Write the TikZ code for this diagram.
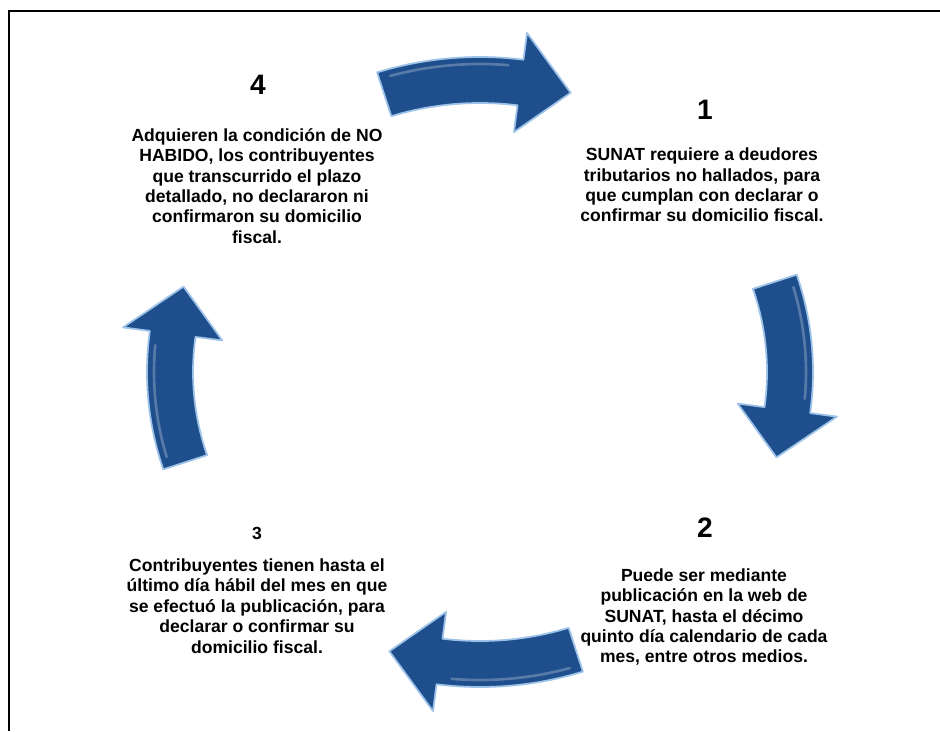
\documentclass[tikz,border=0pt]{standalone}
\usepackage{fontspec}
\setmainfont{Liberation Sans}
\definecolor{arrowblue}{HTML}{1F4E8D}
\definecolor{arrowedge}{HTML}{9CC2E8}

\begin{document}
\begin{tikzpicture}[x=0.02cm, y=-0.02cm, every node/.style={align=center, inner sep=0pt},
  steptext/.style={font=\bfseries\fontsize{10}{11.6}\selectfont},
  stepnum/.style={font=\bfseries\fontsize{16}{18}\selectfont}]
\useasboundingbox (0,0) rectangle (940,731);
% Frame
\draw[line width=1.1pt] (9,731) -- (9,11) -- (940,11);

% Cycle arrows (angle 0 = right, 90 = down)
\begin{scope}[shift={(480,372)}]
\foreach \c in {270,0,90,180} {
  \fill[arrowblue, draw=arrowedge, line width=1pt, line join=round]
    (\c-18:333 and 315) arc[start angle=\c-18, end angle=\c+7.5, x radius=333, y radius=315]
    -- (\c+7.5:360 and 342) -- (\c+17:310 and 292) -- (\c+7.5:260 and 242)
    -- (\c+7.5:287 and 269) arc[start angle=\c+7.5, end angle=\c-18, x radius=287, y radius=269]
    -- cycle;
  % highlight along the outer side
  \draw[white, opacity=0.25, line width=1.5pt, line cap=round]
    (\c-16:326 and 308) arc[start angle=\c-16, end angle=\c+5, x radius=326, y radius=308];
}
\end{scope}

% Step 1
\node[stepnum] (num1) at (705,110) {1};
\node[steptext] (txt1) at (702,185) {SUNAT requiere a deudores\\tributarios no hallados, para\\que cumplan con declarar o\\confirmar su domicilio fiscal.};

% Step 2
\node[stepnum] (num2) at (705,528) {2};
\node[steptext] (txt2) at (704,617) {Puede ser mediante\\publicación en la web de\\SUNAT, hasta el décimo\\quinto día calendario de cada\\mes, entre otros medios.};

% Step 3
\node[steptext] (num3) at (257,533) {3};
\node[steptext] (txt3) at (257,606) {Contribuyentes tienen hasta el\\último día hábil del mes en que\\se efectuó la publicación, para\\declarar o confirmar su\\domicilio fiscal.};

% Step 4
\node[stepnum] (num4) at (258,85) {4};
\node[steptext] (txt4) at (257,186) {Adquieren la condición de NO\\HABIDO, los contribuyentes\\que transcurrido el plazo\\detallado, no declararon ni\\confirmaron su domicilio\\fiscal.};
\end{tikzpicture}
\end{document}
